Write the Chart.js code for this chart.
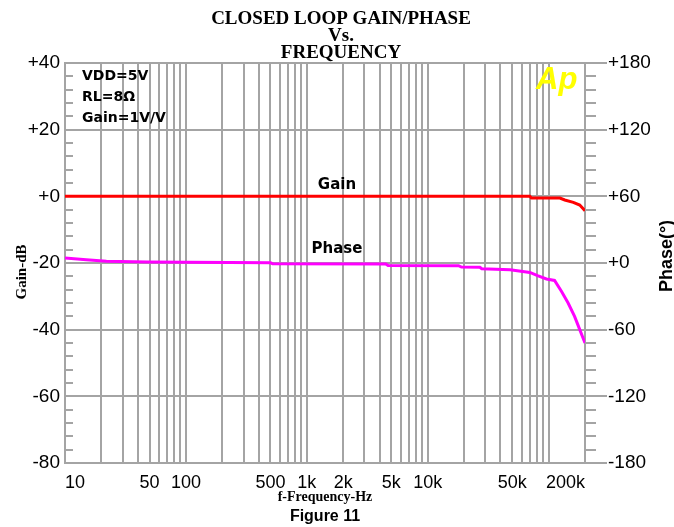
<!DOCTYPE html>
<html>
<head>
<meta charset="utf-8">
<script src="https://cdn.jsdelivr.net/npm/chart.js@4/dist/chart.umd.min.js"></script>
<style>
html,body{margin:0;padding:0;background:#fff;}
#wrap{width:674px;height:527px;position:relative;}
</style>
</head>
<body>
<div id="wrap"><canvas id="c" width="674" height="527"></canvas></div>
<script>
// ---- data ----
const gainFreq = [10, 100, 1000, 10000, 50000, 70000, 72000, 124000, 136000, 160000, 181000, 200000];
const gainDb   = [0, 0, 0, 0, 0, 0, -0.5, -0.5, -1.1, -1.8, -2.6, -4.3];

const phaseFreq = [10, 15, 22, 48, 500, 520, 4500, 4700, 18000, 19000, 27000, 28000, 48000, 70000, 81000, 96000, 112000, 128000, 145000, 164000, 181000, 200000];
const phaseDeg  = [4.5, 3, 1.5, 0.8, 0.3, -0.6, -0.8, -2.2, -2.4, -3.6, -3.8, -5.1, -6, -8.5, -11.4, -14.4, -15.7, -25.6, -36, -48, -60, -72];

const freqGrid = [10,20,30,40,50,60,70,80,90,
                  100,200,300,400,500,600,700,800,900,
                  1000,2000,3000,4000,5000,6000,7000,8000,9000,
                  10000,20000,30000,40000,50000,60000,70000,80000,90000,
                  100000,200000];
const freqLabelValues = [10, 50, 100, 500, 1000, 2000, 5000, 10000, 50000, 200000];
const freqLabelTexts  = ['10','50','100','500','1k','2k','5k','10k','50k','200k'];

const gainTicks  = [-80, -60, -40, -20, 0, 20, 40];
const gainTickLabels = ['-80','-60','-40','-20','+0','+20','+40'];
const gainMinor  = [-76,-72,-68,-64,-56,-52,-48,-44,-36,-32,-28,-24,-16,-12,-8,-4,4,8,12,16,24,28,32,36];
const phaseTicks = [-180, -120, -60, 0, 60, 120, 180];
const phaseTickLabels = ['-180','-120','-60','+0','+60','+120','+180'];
const phaseMinor = [-168,-156,-144,-132,-108,-96,-84,-72,-48,-36,-24,-12,12,24,36,48,72,84,96,108,132,144,156,168];

const titleLines = ['CLOSED LOOP GAIN/PHASE', 'Vs.', 'FREQUENCY'];
const notes = ['VDD=5V', 'RL=8\u03A9', 'Gain=1V/V'];

const GRID = '#a4a4a4';

const decor = {
  id: 'decor',
  afterDraw(chart) {
    const ctx = chart.ctx;
    const a = chart.chartArea;
    const y = chart.scales.y, y2 = chart.scales.y2;
    ctx.save();
    ctx.strokeStyle = GRID;
    ctx.lineWidth = 2;
    ctx.beginPath();
    gainMinor.forEach(v => { const p = Math.round(y.getPixelForValue(v)); ctx.moveTo(a.left, p); ctx.lineTo(a.left + 8, p); });
    phaseMinor.forEach(v => { const p = Math.round(y2.getPixelForValue(v)); ctx.moveTo(a.right, p); ctx.lineTo(a.right + 11, p); });
    phaseTicks.forEach(v => { const p = Math.round(y2.getPixelForValue(v)); ctx.moveTo(a.right, p); ctx.lineTo(a.right + 22, p); });
    ctx.stroke();

    ctx.fillStyle = '#000';
    ctx.textAlign = 'center';
    ctx.textBaseline = 'middle';
    ctx.font = 'bold 19px "Liberation Serif", serif';
    titleLines.forEach((t, i) => ctx.fillText(t, 341, 19 + i * 17));

    ctx.font = 'bold 14px "Liberation Serif", serif';
    ctx.fillText('f-Frequency-Hz', (a.left + a.right) / 2, 497);
    ctx.font = 'bold 16px "Liberation Sans", Arial, sans-serif';
    ctx.fillText('Figure 11', (a.left + a.right) / 2, 517);

    ctx.save();
    ctx.translate(22, 272);
    ctx.rotate(-Math.PI / 2);
    ctx.font = 'bold 15px "Liberation Serif", serif';
    ctx.fillText('Gain-dB', 0, 0);
    ctx.restore();

    ctx.save();
    ctx.translate(667, 256);
    ctx.rotate(-Math.PI / 2);
    ctx.font = 'bold 18px "Liberation Sans", Arial, sans-serif';
    ctx.fillText('Phase(\u00B0)', 0, 0);
    ctx.restore();

    ctx.textAlign = 'left';
    ctx.font = 'bold 14px "DejaVu Sans", sans-serif';
    notes.forEach((t, i) => ctx.fillText(t, 82, 76 + i * 21));

    ctx.textAlign = 'center';
    ctx.font = 'bold 15px "DejaVu Sans", sans-serif';
    ctx.fillText('Gain', 337, 185);
    ctx.fillText('Phase', 337, 249);

    ctx.textAlign = 'left';
    ctx.textBaseline = 'alphabetic';
    ctx.fillStyle = '#ffff00';
    ctx.font = 'bold italic 31px "Liberation Sans", Arial, sans-serif';
    ctx.fillText('Ap', 536, 89);
    ctx.restore();
  }
};

new Chart(document.getElementById('c'), {
  type: 'line',
  data: {
    datasets: [
      { label: 'Gain', yAxisID: 'y', data: gainFreq.map((f, i) => ({ x: f, y: gainDb[i] })),
        borderColor: '#ff0000', borderWidth: 3, pointRadius: 0, tension: 0, fill: false },
      { label: 'Phase', yAxisID: 'y2', data: phaseFreq.map((f, i) => ({ x: f, y: phaseDeg[i] })),
        borderColor: '#ff00ff', borderWidth: 3, pointRadius: 0, tension: 0, fill: false }
    ]
  },
  options: {
    responsive: false,
    animation: false,
    layout: { padding: { top: 63, left: 0, right: 0, bottom: 0 } },
    plugins: { legend: { display: false }, title: { display: false }, tooltip: { enabled: false } },
    scales: {
      x: {
        type: 'logarithmic', position: 'bottom', min: 10, max: 200000,
        afterBuildTicks: s => { s.ticks = freqGrid.map(v => ({ value: v })); },
        afterFit: s => { s.height = 64; },
        ticks: {
          autoSkip: false, maxRotation: 0, minRotation: 0, align: 'inner', padding: 9, color: '#000',
          font: { family: '"Liberation Sans", Arial, sans-serif', size: 18 },
          callback: v => { const i = freqLabelValues.indexOf(v); return i >= 0 ? freqLabelTexts[i] : ''; }
        },
        grid: { color: GRID, lineWidth: 2, drawTicks: false },
        border: { display: true, color: GRID, width: 2 }
      },
      y: {
        position: 'left', min: -80, max: 40,
        afterBuildTicks: s => { s.ticks = gainTicks.map(v => ({ value: v })); },
        afterFit: s => { s.width = 65; },
        ticks: {
          padding: 5, color: '#000',
          font: { family: '"Liberation Sans", Arial, sans-serif', size: 19 },
          callback: v => { const i = gainTicks.indexOf(v); return i >= 0 ? gainTickLabels[i] : ''; }
        },
        grid: { color: GRID, lineWidth: 2, drawTicks: false },
        border: { display: true, color: GRID, width: 2 }
      },
      y2: {
        position: 'right', min: -180, max: 180,
        afterBuildTicks: s => { s.ticks = phaseTicks.map(v => ({ value: v })); },
        afterFit: s => { s.width = 89; },
        ticks: {
          padding: 23, color: '#000',
          font: { family: '"Liberation Sans", Arial, sans-serif', size: 19 },
          callback: v => { const i = phaseTicks.indexOf(v); return i >= 0 ? phaseTickLabels[i] : ''; }
        },
        grid: { drawOnChartArea: false, drawTicks: false },
        border: { display: true, color: GRID, width: 2 }
      }
    }
  },
  plugins: [decor]
});
</script>
</body>
</html>
